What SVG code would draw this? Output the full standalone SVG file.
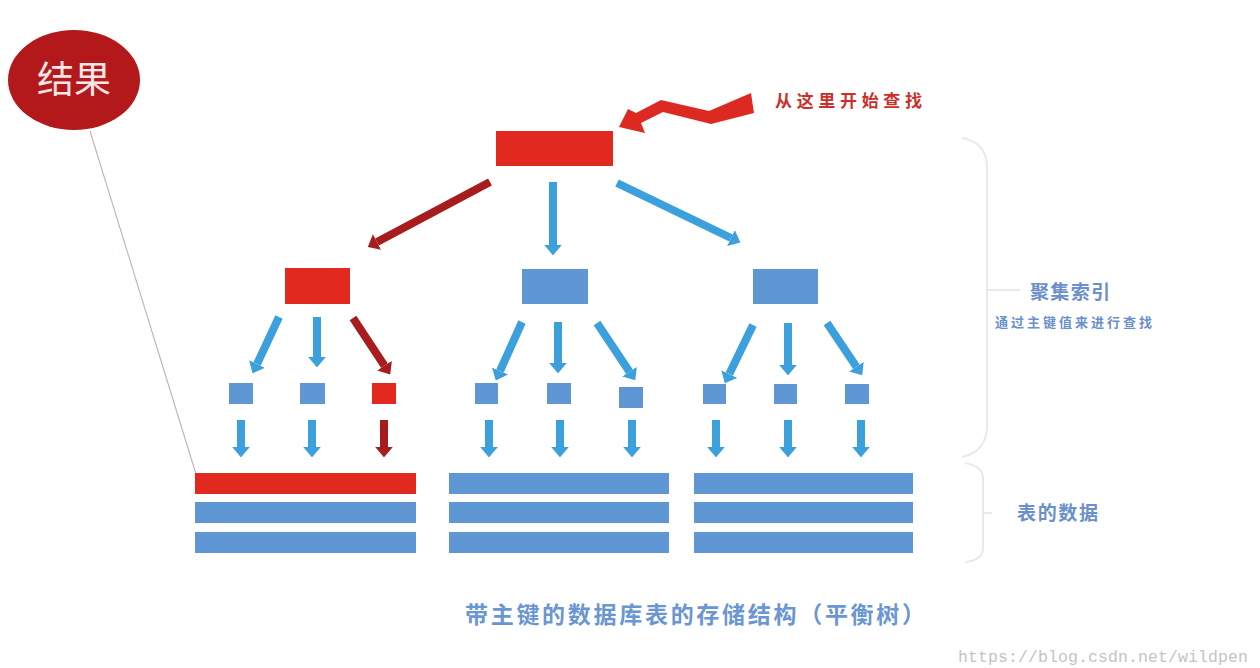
<svg xmlns="http://www.w3.org/2000/svg" width="1260" height="668" viewBox="0 0 1260 668">
<defs>
<marker id="hb" viewBox="0 0 6 10" markerWidth="1.3" markerHeight="2.2" refX="0" refY="5" orient="auto" preserveAspectRatio="none"><path d="M0,0 L6,5 L0,10 z" fill="#3ba0dc"/></marker>
<marker id="hr" viewBox="0 0 6 10" markerWidth="1.3" markerHeight="2.2" refX="0" refY="5" orient="auto" preserveAspectRatio="none"><path d="M0,0 L6,5 L0,10 z" fill="#a71c1c"/></marker>
</defs>
<style>
.red{fill:#e2291f}
.blue{fill:#5f96d4}
.ab{stroke:#3ba0dc;stroke-width:8;fill:none;marker-end:url(#hb)}
.ar{stroke:#a71c1c;stroke-width:8;fill:none;marker-end:url(#hr)}
.brace{stroke:#e9e9e9;stroke-width:2;fill:none}
.lbl{font-family:"Noto Sans CJK SC","Noto Sans",sans-serif;font-weight:bold;fill:#6a8fca}
</style>
<rect width="1260" height="668" fill="#ffffff"/>

<g id="result">
<ellipse cx="74" cy="80" rx="66" ry="50" fill="#b3191b"/>
<text x="74" y="93" text-anchor="middle" font-family="Noto Sans CJK SC,sans-serif" font-size="37" fill="#f6e6e6">结果</text>
</g>
<g id="result-link"><path d="M90,131 L196,474" stroke="#c4b0b0" stroke-width="1.1" fill="none"/></g>

<g id="start-label">
<text x="775" y="107" font-family="Noto Sans CJK SC,sans-serif" font-weight="bold" font-size="17" fill="#c9302c" textLength="147">从这里开始查找</text>
</g>

<g id="root"><rect class="red" x="496" y="131" width="117" height="35"/></g>
<g id="n-left"><rect class="red" x="285" y="268" width="65" height="36"/></g>
<g id="n-mid"><rect class="blue" x="522" y="269" width="66" height="35"/></g>
<g id="n-right"><rect class="blue" x="753" y="269" width="65" height="35"/></g>

<g id="leaf-l1"><rect class="blue" x="229" y="383" width="24" height="21"/></g>
<g id="leaf-l2"><rect class="blue" x="300" y="383" width="25" height="21"/></g>
<g id="leaf-l3"><rect class="red" x="372" y="383" width="24" height="21"/></g>
<g id="leaf-m1"><rect class="blue" x="475" y="383" width="23" height="21"/></g>
<g id="leaf-m2"><rect class="blue" x="547" y="383" width="24" height="21"/></g>
<g id="leaf-m3"><rect class="blue" x="619" y="387" width="24" height="21"/></g>
<g id="leaf-r1"><rect class="blue" x="703" y="384" width="23" height="20"/></g>
<g id="leaf-r2"><rect class="blue" x="774" y="384" width="23" height="20"/></g>
<g id="leaf-r3"><rect class="blue" x="845" y="384" width="24" height="20"/></g>

<g id="data-left">
<rect class="red" x="195" y="473" width="221" height="21"/>
<rect class="blue" x="195" y="502" width="221" height="21"/>
<rect class="blue" x="195" y="532" width="221" height="21"/>
</g>
<g id="data-mid">
<rect class="blue" x="449" y="473" width="220" height="21"/>
<rect class="blue" x="449" y="502" width="220" height="21"/>
<rect class="blue" x="449" y="532" width="220" height="21"/>
</g>
<g id="data-right">
<rect class="blue" x="694" y="473" width="219" height="21"/>
<rect class="blue" x="694" y="502" width="219" height="21"/>
<rect class="blue" x="694" y="532" width="219" height="21"/>
</g>

<g id="connectors">
<polygon points="619,127 628,109 636,113 661,100 709,111 751,93 754,113 711,124 663,112 641,123 645,133" fill="#dc2a22"/>
<line class="ar" x1="490" y1="182" x2="377" y2="242"/>
<line class="ab" x1="553" y1="182" x2="553" y2="245"/>
<line class="ab" x1="617" y1="183" x2="731" y2="238"/>

<line class="ab" x1="279" y1="317" x2="257" y2="364"/>
<line class="ab" x1="317" y1="317" x2="317" y2="357"/>
<line class="ar" x1="353" y1="318" x2="384.5" y2="365.7"/>
<line class="ab" x1="241" y1="420" x2="241" y2="447"/>
<line class="ab" x1="312" y1="420" x2="312" y2="447"/>
<line class="ar" x1="384" y1="420" x2="384" y2="447"/>

<line class="ab" x1="522" y1="322" x2="500" y2="371"/>
<line class="ab" x1="558" y1="322" x2="558" y2="363"/>
<line class="ab" x1="597" y1="323" x2="629.5" y2="371.7"/>
<line class="ab" x1="489" y1="420" x2="489" y2="447"/>
<line class="ab" x1="560" y1="420" x2="560" y2="447"/>
<line class="ab" x1="632" y1="420" x2="632" y2="447"/>

<line class="ab" x1="753" y1="325" x2="729.3" y2="374"/>
<line class="ab" x1="788" y1="323" x2="788" y2="365"/>
<line class="ab" x1="827" y1="323" x2="856.4" y2="366.7"/>
<line class="ab" x1="716" y1="420" x2="716" y2="447"/>
<line class="ab" x1="788" y1="420" x2="788" y2="447"/>
<line class="ab" x1="861" y1="420" x2="861" y2="447"/>
</g>

<g id="brace-index">
<path class="brace" d="M962,138 Q987,142 987,168 L987,425 Q987,452 962,457"/>
<path class="brace" d="M987,290 L1020,290"/>
<text class="lbl" x="1030" y="299" font-size="19" textLength="80">聚集索引</text>
<text class="lbl" x="995" y="327" font-size="13" font-weight="normal" textLength="157">通过主键值来进行查找</text>
</g>
<g id="brace-data">
<path class="brace" d="M965,463 Q983,466 983,478 L983,548 Q983,560 965,562"/>
<path class="brace" d="M983,513 L992,513"/>
<text class="lbl" x="1017" y="520" font-size="19" textLength="81">表的数据</text>
</g>

<g id="caption">
<text x="465" y="623" font-family="Noto Sans CJK SC,sans-serif" font-weight="bold" font-size="23" fill="#6a96d2" textLength="460">带主键的数据库表的存储结构（平衡树）</text>
</g>
<text x="958" y="662" font-family="Liberation Mono,monospace" font-size="16.5" fill="#c4c4c4" textLength="290">https://blog.csdn.net/wildpen</text>
</svg>
